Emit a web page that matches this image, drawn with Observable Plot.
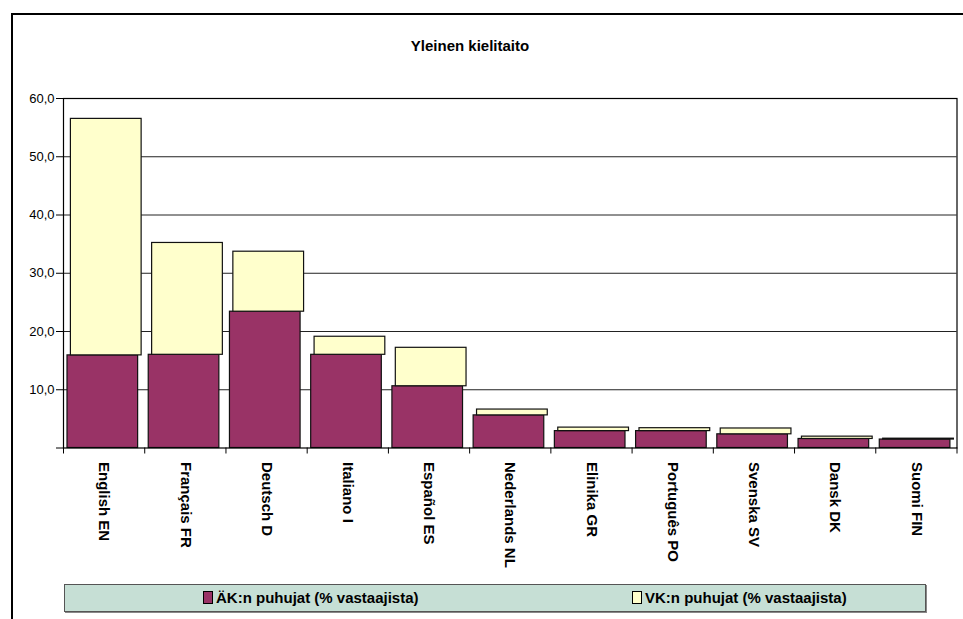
<!DOCTYPE html>
<html>
<head>
<meta charset="utf-8">
<script src="https://cdn.jsdelivr.net/npm/d3@7"></script>
<script src="https://cdn.jsdelivr.net/npm/@observablehq/plot@0.6"></script>
<style>
  html, body { margin: 0; padding: 0; background: #fff; }
  #wrap { position: relative; width: 963px; height: 619px; overflow: hidden; font-family: "Liberation Sans", Arial, sans-serif; }
  #frame { position: absolute; left: 11px; top: 13px; width: 1000px; height: 700px; border-left: 2.3px solid #000; border-top: 2.3px solid #000; }
  #title { position: absolute; left: 0; width: 940px; top: 37px; text-align: center; font-weight: bold; font-size: 15px; color: #000; }
  #chart { position: absolute; left: 0; top: 0; }
  #chart g[aria-label="x-axis tick label"] text { font-size: 15px; font-weight: bold; }
  #chart g[aria-label="y-axis tick label"] text { font-size: 13px; }
  #legend { position: absolute; left: 64px; top: 584px; width: 860px; height: 26px; background: #c6dfd5; border: 1px solid #555; box-shadow: 1px 1px 0 #888; font-weight: bold; font-size: 15px; color: #000; }
  .item { position: absolute; top: 4px; display: flex; align-items: center; white-space: nowrap; }
  .sw { display: inline-block; width: 8px; height: 11px; border: 1px solid #000; margin-right: 3px; }
</style>
</head>
<body>
<div id="wrap">
  <div id="frame"></div>
  <div id="title">Yleinen kielitaito</div>
  <div id="chart"></div>
  <div id="legend"></div>
</div>
<script>
const categories = ["English EN", "Français FR", "Deutsch D", "Italiano I", "Español ES", "Nederlands NL", "Elinika GR", "Português PO", "Svenska SV", "Dansk DK", "Suomi FIN"];
const akValues = [15.9, 16.0, 23.4, 16.0, 10.6, 5.6, 2.9, 2.9, 2.35, 1.55, 1.45];
const vkValues = [40.6, 19.2, 10.3, 3.1, 6.6, 1.0, 0.6, 0.5, 1.0, 0.4, 0.15];
const yTicks = [0, 10, 20, 30, 40, 50, 60];
const gridTicks = [10, 20, 30, 40, 50];
const seriesNames = ["ÄK:n puhujat (% vastaajista)", "VK:n puhujat (% vastaajista)"];
const seriesColors = ["#993366", "#ffffcc"];

const rows = categories.map((c, i) => ({i, c, ak: akValues[i], vk: vkValues[i]}));
const boundaries = d3.range(categories.length + 1);
const centers = categories.map((c, i) => i + 0.5);

const chart = Plot.plot({
  width: 963,
  height: 580,
  marginLeft: 63,
  marginRight: 6.5,
  marginTop: 98,
  marginBottom: 132.5,
  style: {fontFamily: "'Liberation Sans', Arial, sans-serif", fontSize: "13px", color: "#000", background: "transparent", overflow: "visible"},
  x: {domain: [0, categories.length]},
  y: {domain: [0, 60]},
  marks: [
    Plot.gridY(gridTicks, {stroke: "#222", strokeOpacity: 1, strokeWidth: 1}),
    Plot.rectY(rows, {x1: d => d.i, x2: d => d.i + 1, y1: 0, y2: d => d.ak, fill: seriesColors[0], stroke: "#111", strokeWidth: 1.2, insetLeft: 4, insetRight: 6.6}),
    Plot.rectY(rows, {x1: d => d.i, x2: d => d.i + 1, y1: d => d.ak, y2: d => d.ak + d.vk, fill: seriesColors[1], stroke: "#111", strokeWidth: 1.2, insetLeft: 7.4, insetRight: 3.1}),
    Plot.frame({stroke: "#000", strokeWidth: 1.2}),
    Plot.axisY(yTicks, {tickFormat: d => d === 0 ? "" : d.toFixed(1).replace(".", ","), tickSize: 7, tickPadding: 2, stroke: "#000", label: null}),
    Plot.axisX(boundaries, {tickFormat: () => "", tickSize: 6, stroke: "#000", label: null}),
    Plot.axisX(centers, {tickFormat: d => categories[Math.floor(d)], tickSize: 0, tickPadding: 14, tickRotate: 90, label: null})
  ]
});
document.getElementById("chart").appendChild(chart);

const legend = document.getElementById("legend");
const legendLeft = [138, 567];
seriesNames.forEach((name, k) => {
  const it = document.createElement("div");
  it.className = "item";
  it.style.left = legendLeft[k] + "px";
  const sw = document.createElement("span");
  sw.className = "sw";
  sw.style.background = seriesColors[k];
  it.appendChild(sw);
  it.appendChild(document.createTextNode(name));
  legend.appendChild(it);
});
</script>
</body>
</html>
